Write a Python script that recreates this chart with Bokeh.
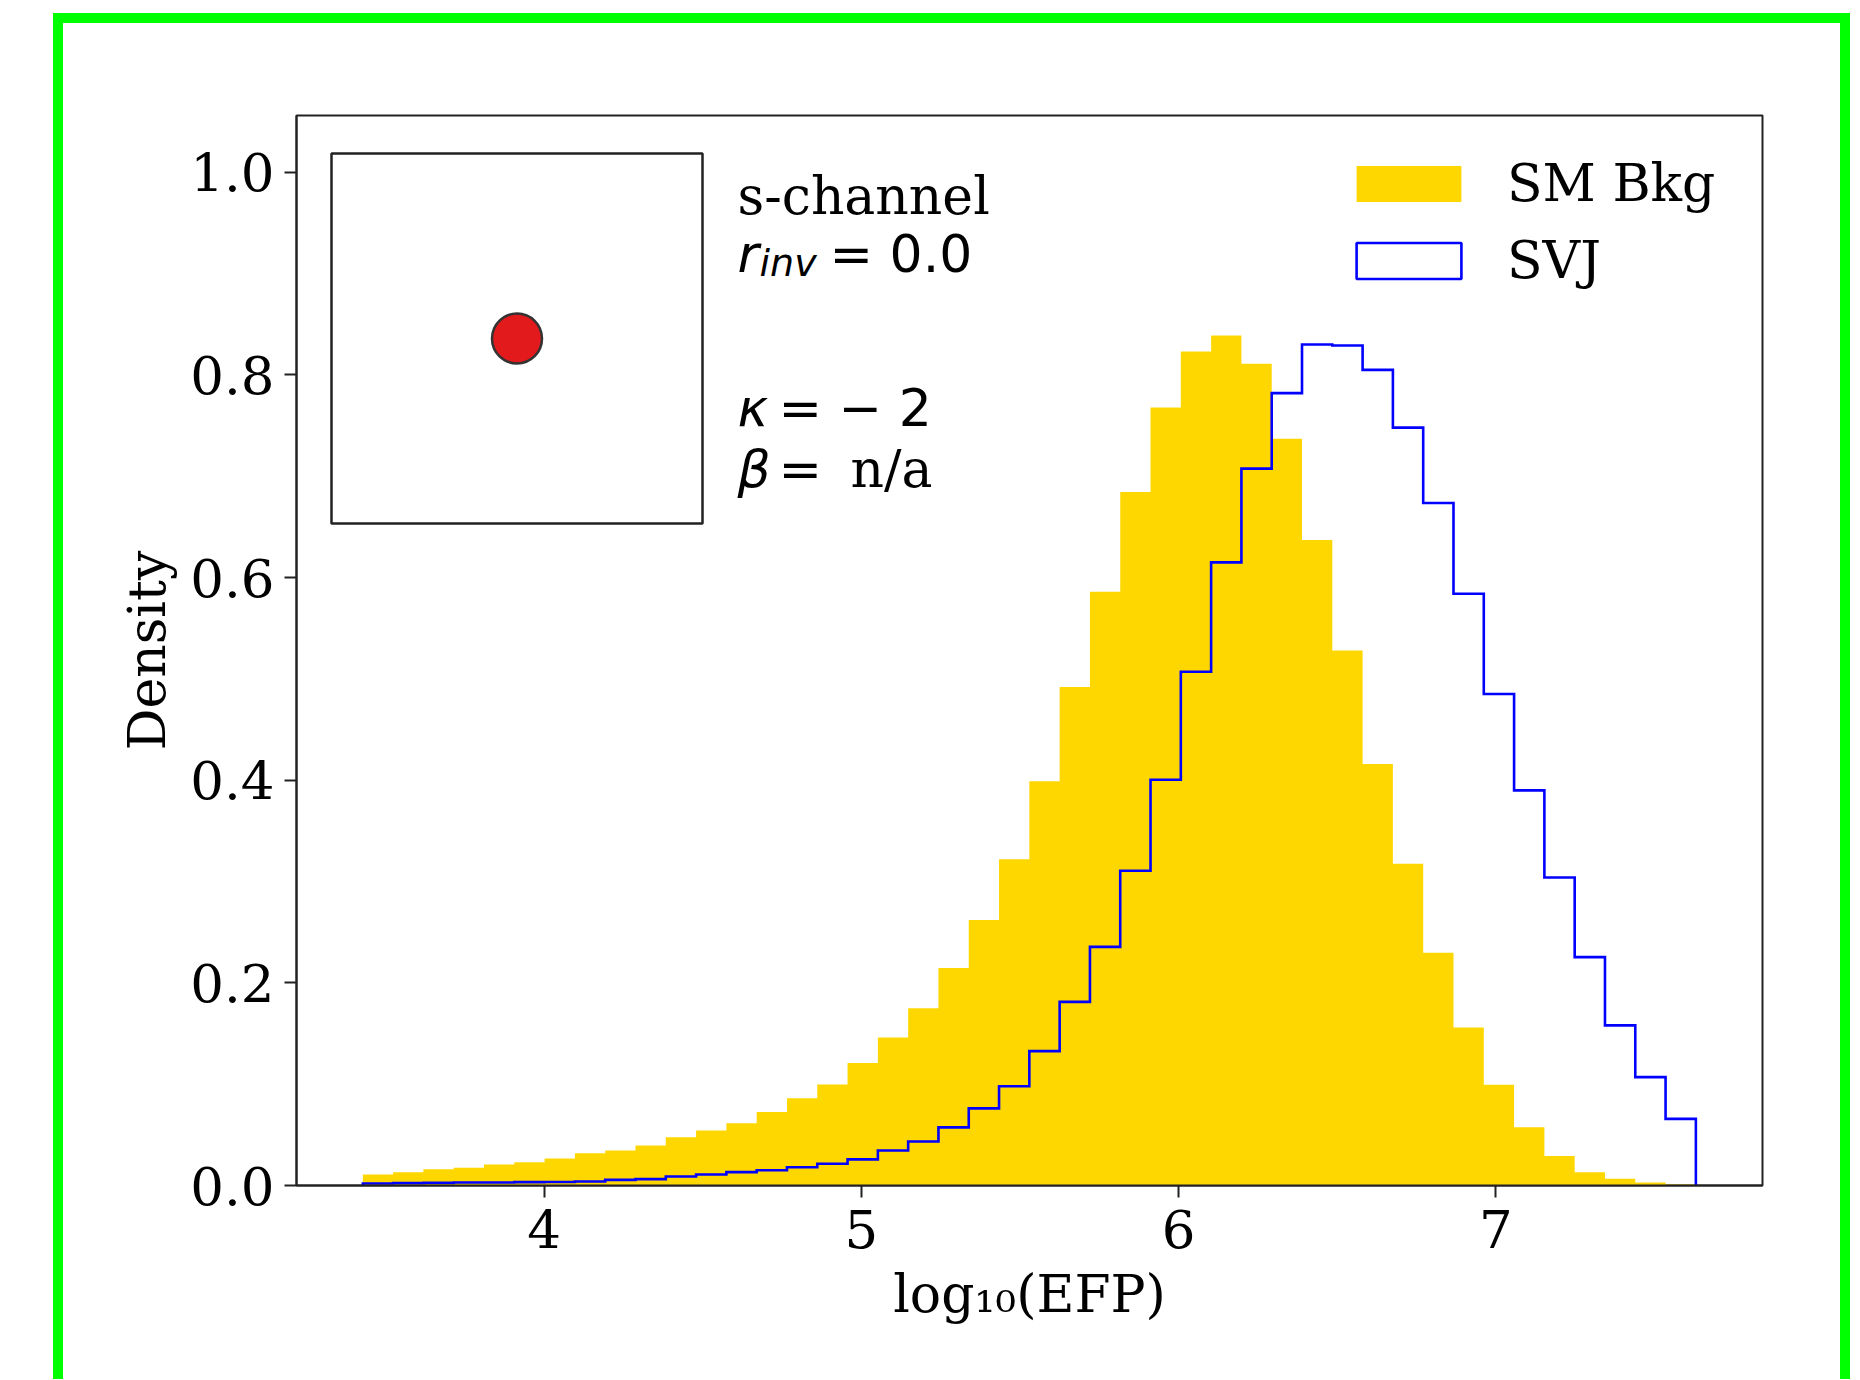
import numpy as np
from bokeh.plotting import figure
from bokeh.models import (Range1d, FixedTicker, BoxAnnotation, Label, Legend,
                          LegendItem)
from bokeh.embed import file_html
from bokeh.resources import INLINE

# ---------------- data ----------------
bin_lo = 3.429
bin_hi = 7.630
n_bins = 44

sm_bkg = [0.0109, 0.0132, 0.0161, 0.0175, 0.0207, 0.0230, 0.0266, 0.0319, 0.0345,
          0.0395, 0.0477, 0.0543, 0.0615, 0.0726, 0.0860, 0.0998, 0.1210, 0.1460,
          0.1749, 0.2147, 0.2620, 0.3220, 0.3990, 0.4920, 0.5860, 0.6844, 0.7677,
          0.8230, 0.8390, 0.8110, 0.7370, 0.6370, 0.5280, 0.4160, 0.3175, 0.2297,
          0.1560, 0.0994, 0.0576, 0.0290, 0.0132, 0.0066, 0.0030, 0.0010]

svj = [0.0020, 0.0023, 0.0026, 0.0030, 0.0030, 0.0033, 0.0035, 0.0040, 0.0056,
       0.0063, 0.0089, 0.0109, 0.0132, 0.0150, 0.0180, 0.0215, 0.0258, 0.0346,
       0.0434, 0.0574, 0.0761, 0.0980, 0.1326, 0.1812, 0.2355, 0.3106, 0.4005,
       0.5070, 0.6150, 0.7075, 0.7820, 0.8300, 0.8290, 0.8050, 0.7480, 0.6735,
       0.5840, 0.4850, 0.3900, 0.3040, 0.2254, 0.1580, 0.1070, 0.0658]

x_ticks = [4, 5, 6, 7]
y_ticks = [0.0, 0.2, 0.4, 0.6, 0.8, 1.0]
y_tick_labels = ["0.0", "0.2", "0.4", "0.6", "0.8", "1.0"]
x_label = "log\u2081\u2080(EFP)"
y_label = "Density"
legend_labels = ["SM Bkg", "SVJ"]

# ---------------- layout (picture pixels) ----------------
OFF_X, OFF_Y = 63, 23          # canvas origin inside the green frame
W, H = 1777, 1356
BORDER_X, BORDER_Y = 20, 10    # canvas is enlarged by the css borders
XR0, XR1 = 3.220, 7.840
YR0, YR1 = 0.0, 1.056
FRAME_L, FRAME_R, FRAME_T, FRAME_B = 296, 1762, 115, 1185


def X(px):
    return XR0 + (px - FRAME_L) * (XR1 - XR0) / (FRAME_R - FRAME_L)


def Y(py):
    return YR0 + (FRAME_B - py) * (YR1 - YR0) / (FRAME_B - FRAME_T)


edges = np.linspace(bin_lo, bin_hi, n_bins + 1)


def step_xy(vals):
    xs, ys = [edges[0]], [0.0]
    for i, v in enumerate(vals):
        xs += [edges[i], edges[i + 1]]
        ys += [v, v]
    xs.append(edges[-1])
    ys.append(0.0)
    return xs, ys


p = figure(width=W, height=H, x_range=Range1d(XR0, XR1), y_range=Range1d(YR0, YR1),
           output_backend="svg", toolbar_location=None,
           min_border_left=FRAME_L - OFF_X, min_border_top=FRAME_T - OFF_Y,
           min_border_right=OFF_X + W - FRAME_R + BORDER_X,
           min_border_bottom=OFF_Y + H - FRAME_B + BORDER_Y)
p.styles = {"border-left": "10px solid #00ff00", "border-right": "10px solid #00ff00",
            "border-top": "10px solid #00ff00", "margin-left": "53px",
            "margin-top": "13px", "box-sizing": "content-box"}
p.xgrid.visible = False
p.ygrid.visible = False
p.background_fill_color = "white"
p.border_fill_color = "white"
p.outline_line_color = "#222222"
p.outline_line_width = 2

SERIF = "DejaVu Serif"
SANS = "DejaVu Sans"

for ax in (p.xaxis[0], p.yaxis[0]):
    ax.axis_line_color = "#222222"
    ax.axis_line_width = 2
    ax.major_tick_line_color = "#222222"
    ax.major_tick_line_width = 2
    ax.major_tick_out = 12
    ax.major_tick_in = 0
    ax.minor_tick_out = 0
    ax.minor_tick_in = 0
    ax.major_label_text_font = SERIF
    ax.major_label_text_font_size = "53px"
    ax.major_label_text_color = "black"
    ax.axis_label_text_font = SERIF
    ax.axis_label_text_font_size = "52px"
    ax.axis_label_text_font_style = "normal"
    ax.axis_label_text_color = "black"

p.xaxis.ticker = FixedTicker(ticks=x_ticks)
p.yaxis.ticker = FixedTicker(ticks=y_ticks)
p.yaxis.major_label_overrides = {t: l for t, l in zip(y_ticks, y_tick_labels)}
p.xaxis.major_label_standoff = 12
p.yaxis.major_label_standoff = 10
p.xaxis.axis_label = x_label
p.yaxis.axis_label = y_label
p.xaxis.axis_label_standoff = 13
p.yaxis.axis_label_standoff = 10

# histograms
bx, by = step_xy(sm_bkg)
r_bkg = p.patch(bx, by, fill_color="#ffd700", line_color=None)
sx, sy = step_xy(svj)
r_svj = p.line(sx, sy, line_color="#0000ff", line_width=2.6, line_join="miter")
r_proxy = p.quad(left=[edges[0]], right=[edges[-1]], top=[0.0], bottom=[0.0],
                 fill_color=None, line_color="#0000ff", line_width=2.6)
r_proxy.visible = False

legend = Legend(items=[LegendItem(label=legend_labels[0], renderers=[r_bkg]),
                       LegendItem(label=legend_labels[1], renderers=[r_proxy])],
                location="top_right", margin=0, padding=37,
                glyph_width=131, glyph_height=45, label_standoff=33,
                label_width=218, label_height=62, spacing=15,
                label_text_font=SERIF, label_text_font_size="52px",
                label_text_color="black",
                border_line_alpha=0, background_fill_alpha=0)
p.add_layout(legend)

# inset box with a single node
box_l, box_r, box_t, box_b = X(331), X(702), Y(153), Y(523)
p.add_layout(BoxAnnotation(left=box_l, right=box_r, top=box_t, bottom=box_b,
                           fill_alpha=0, line_color="#222222", line_alpha=1.0,
                           line_width=2.5))
p.scatter(x=[(box_l + box_r) / 2], y=[(box_t + box_b) / 2], size=50,
          fill_color="#e31a1c", line_color="#333333", line_width=2.5)

# annotation text
TX = X(737)


def lab(x, y, text, font=SANS, size="52px", style="normal"):
    p.add_layout(Label(x=x, y=y, text=text, text_font=font, text_font_size=size,
                       text_font_style=style, text_baseline="alphabetic",
                       text_align="left", text_color="black"))


lab(TX, Y(195), "s-channel", font=SERIF)
lab(TX, Y(253), "r", style="italic")
lab(X(759), Y(262), "inv", size="38px", style="italic")
lab(X(829), Y(253), "= 0.0")
lab(TX, Y(407), "\u03ba", style="italic")
lab(X(778), Y(407), "= \u2212 2")
lab(TX, Y(468), "\u03b2", style="italic")
lab(X(778), Y(468), "=")
lab(X(850), Y(468), "n/a", font=SERIF)

open("out.html", "w").write(file_html(p, INLINE))
